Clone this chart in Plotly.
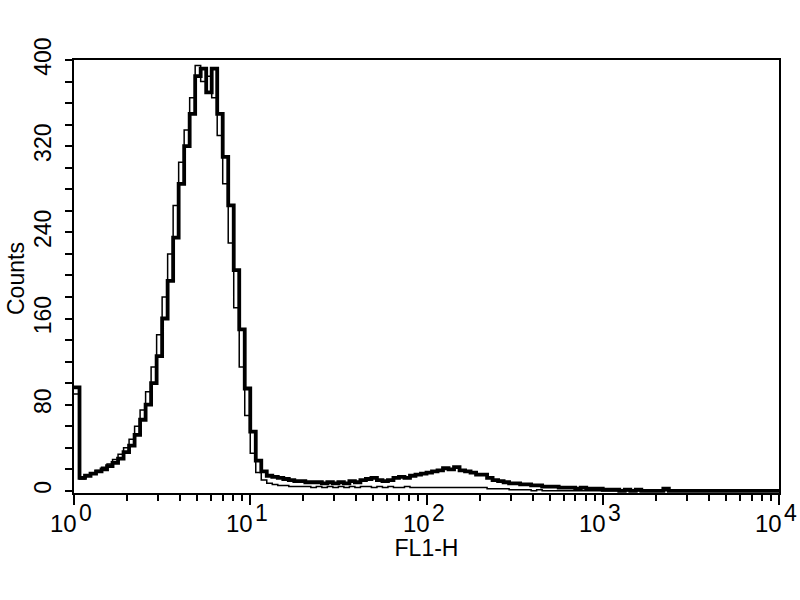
import numpy as np
import plotly.graph_objects as go

# Histogram counts, 32 log-spaced channels per decade from 10^0 to 10^4
sample_counts = [
    96, 12, 14, 16, 18, 20, 23, 26, 30, 36, 42, 52, 66, 80, 100, 125,
    160, 195, 235, 285, 320, 350, 385, 392, 370, 392, 350, 310, 265, 205, 150, 95,
    55, 28, 18, 14, 13, 12, 11, 10, 9, 9, 8, 8, 8, 7, 8, 7,
    8, 7, 9, 8, 10, 11, 12, 10, 9, 10, 12, 13, 12, 14, 15, 16,
    17, 18, 19, 21, 20, 22, 19, 18, 17, 15, 15, 12, 10, 9, 8, 7,
    7, 6, 6, 5, 5, 4, 4, 4, 3, 3, 3, 2, 3, 2, 2, 2,
    1, 1, 1, 0, 1, 0, 1, 0, 0, 0, 0, 2, 0, 0, 0, 0,
    0, 0, 0, 0, 0, 0, 0, 0, 0, 0, 0, 0, 0, 0, 0, 0,
]
control_counts = [
    90, 11, 14, 16, 19, 22, 25, 29, 34, 40, 48, 60, 75, 92, 115, 145,
    180, 220, 265, 305, 335, 365, 395, 380, 385, 365, 330, 285, 230, 170, 115, 70,
    35, 17, 10, 7, 6, 5, 5, 4, 4, 4, 4, 3, 4, 3, 4, 3,
    4, 3, 4, 3, 4, 4, 3, 4, 3, 4, 3, 3, 4, 3, 3, 3,
    3, 3, 3, 3, 3, 3, 3, 3, 3, 3, 3, 2, 2, 2, 2, 1,
    1, 1, 1, 0, 1, 0, 0, 0, 0, 0, 0, 0, 0, 0, 0, 0,
    0, 0, 0, 0, 0, 0, 0, 0, 0, 0, 0, 0, 0, 0, 0, 0,
    0, 0, 0, 0, 0, 0, 0, 0, 0, 0, 0, 0, 0, 0, 0, 0,
]
channels_per_decade = 32
x_tick_vals = [1, 10, 100, 1000, 10000]
x_tick_exponents = ["0", "1", "2", "3", "4"]
y_tick_vals = [0, 80, 160, 240, 320, 400]
x_title = "FL1-H"
y_title = "Counts"

FONT = "Liberation Sans, Arial, sans-serif"

n = len(sample_counts)
edges = 10 ** (np.arange(n + 1) / channels_per_decade)

def steps(counts):
    return list(edges), list(counts) + [counts[-1]]

fig = go.Figure()
xc, yc = steps(control_counts)
fig.add_trace(go.Scatter(x=xc, y=yc, mode="lines", line=dict(color="black", width=1.5, shape="hv"),
                         showlegend=False, hoverinfo="skip"))
xs, ys = steps(sample_counts)
fig.add_trace(go.Scatter(x=xs, y=ys, mode="lines", line=dict(color="black", width=3.8, shape="hv"),
                         showlegend=False, hoverinfo="skip"))

minor_x = [m * 10 ** d for d in range(4) for m in range(2, 10)]

# decade tick labels: "10" with a full-size raised exponent
for v, e in zip(x_tick_vals, x_tick_exponents):
    lx = float(np.log10(v))
    fig.add_annotation(x=lx, xref="x", y=0, yref="paper", text="10", showarrow=False,
                       xanchor="right", yanchor="top", xshift=5, yshift=-15,
                       font=dict(family=FONT, size=24, color="black"))
    fig.add_annotation(x=lx, xref="x", y=0, yref="paper", text=e, showarrow=False,
                       xanchor="left", yanchor="top", xshift=3, yshift=-5,
                       font=dict(family=FONT, size=23, color="black"))

# y axis title
fig.add_annotation(x=-0.083, xref="paper", y=0.5, yref="paper", text=y_title, showarrow=False,
                   textangle=-90, xanchor="center", yanchor="middle", yshift=-2, borderpad=0,
                   font=dict(family=FONT, size=23, color="black"))

fig.update_layout(
    width=800, height=600,
    margin=dict(l=74, r=21, t=60, b=107),
    paper_bgcolor="white", plot_bgcolor="white",
    font=dict(family=FONT, color="black", size=24),
    xaxis=dict(
        type="log", range=[0, 4], tickvals=x_tick_vals, showticklabels=False,
        ticks="outside", ticklen=10, tickwidth=2, tickcolor="black",
        showline=True, linecolor="black", linewidth=2, mirror=True,
        showgrid=False, zeroline=False, automargin=False,
        minor=dict(tickvals=minor_x, ticks="outside", ticklen=6, tickwidth=2, tickcolor="black", showgrid=False),
        title=dict(text=x_title, standoff=36, font=dict(family=FONT, size=23)),
    ),
    yaxis=dict(
        range=[-2, 400], tickvals=y_tick_vals, tickangle=-90,
        ticks="outside", ticklen=7, tickwidth=2, tickcolor="black",
        showline=True, linecolor="black", linewidth=2, mirror=True,
        showgrid=False, zeroline=False, automargin=False,
        minor=dict(dtick=20, ticks="outside", ticklen=7, tickwidth=2, tickcolor="black", showgrid=False),
        tickfont=dict(family=FONT, size=23),
        ticklabelstandoff=5,
    ),
)

fig.write_html("out.html", config={"displayModeBar": False},
               post_script="document.body.style.margin='0px';")
